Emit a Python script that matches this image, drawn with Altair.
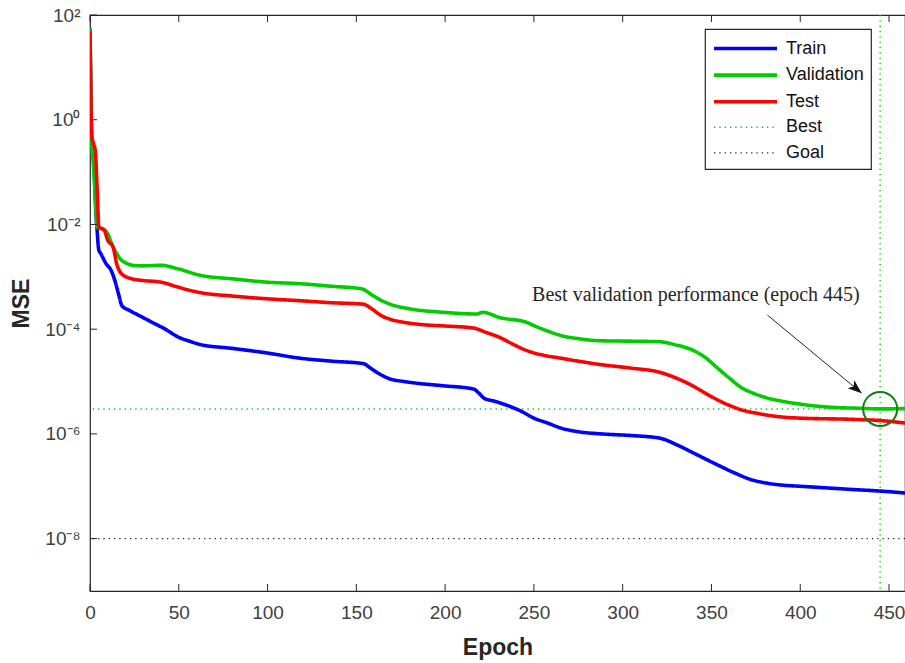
import altair as alt
import pandas as pd

# Training record: mean squared error per epoch
train_epoch = [0, 1, 2, 3, 4, 5, 6, 9, 12, 14, 16, 18, 22, 28, 35, 42, 50, 56, 62, 80, 100,
               118, 136, 154, 158, 163, 169, 177, 184, 199, 216, 219, 222, 228, 235, 242, 250,
               258, 265, 275, 288, 305, 321, 330, 340, 352, 363, 372, 381, 390, 400, 415, 429,
               445, 460]
train_mse = [56, 0.4, 0.25, 0.03, 7.8e-3, 3.2e-3, 2.8e-3, 1.8e-3, 1.3e-3, 8.5e-4, 4.8e-4,
             2.8e-4, 2.3e-4, 1.8e-4, 1.35e-4, 1.02e-4, 7.0e-5, 5.9e-5, 5.1e-5, 4.3e-5, 3.5e-5,
             2.8e-5, 2.45e-5, 2.2e-5, 1.8e-5, 1.4e-5, 1.12e-5, 1.0e-5, 9.3e-6, 8.3e-6, 7.2e-6,
             6.0e-6, 4.8e-6, 4.2e-6, 3.5e-6, 2.8e-6, 2.0e-6, 1.6e-6, 1.3e-6, 1.1e-6, 1.0e-6,
             9.3e-7, 8.3e-7, 6.3e-7, 4.3e-7, 2.7e-7, 1.8e-7, 1.35e-7, 1.15e-7, 1.05e-7, 1.0e-7,
             9.3e-8, 8.7e-8, 8.1e-8, 7.4e-8]

val_epoch = [0, 1, 2, 3, 4, 6, 8, 10, 12, 13, 15, 17, 20, 24, 30, 40, 50, 62, 81, 100, 118,
             136, 153, 158, 163, 169, 180, 199, 218, 221, 231, 246, 250, 259, 265, 275, 288,
             305, 321, 330, 340, 347, 353, 360, 367, 374, 381, 390, 400, 419, 432, 445, 460]
val_mse = [56, 0.4, 0.126, 0.032, 8.9e-3, 8.5e-3, 7.9e-3, 6.6e-3, 4.5e-3, 3.7e-3, 2.8e-3,
           2.2e-3, 1.86e-3, 1.66e-3, 1.62e-3, 1.66e-3, 1.41e-3, 1.07e-3, 9.1e-4, 7.9e-4, 7.4e-4,
           6.6e-4, 5.9e-4, 4.7e-4, 3.7e-4, 3.0e-4, 2.45e-4, 2.1e-4, 1.95e-4, 2.1e-4, 1.66e-4,
           1.35e-4, 1.17e-4, 8.9e-5, 7.6e-5, 6.6e-5, 6.0e-5, 5.9e-5, 5.75e-5, 5.0e-5, 3.9e-5,
           2.8e-5, 1.86e-5, 1.17e-5, 7.6e-6, 5.9e-6, 4.9e-6, 4.2e-6, 3.7e-6, 3.2e-6, 3.1e-6,
           3.0e-6, 3.05e-6]

test_epoch = [0, 1, 2, 3, 4, 5, 8, 10, 13, 15, 18, 24, 30, 40, 50, 62, 80, 100, 118, 136, 154,
              159, 164, 169, 177, 186, 200, 216, 223, 231, 238, 246, 255, 265, 275, 288, 305,
              321, 330, 340, 348, 357, 363, 368, 375, 381, 390, 400, 429, 445, 460]
test_mse = [49, 0.47, 0.35, 0.25, 0.05, 8.9e-3, 7.8e-3, 5.0e-3, 3.7e-3, 1.8e-3, 1.12e-3,
            9.1e-4, 8.5e-4, 7.9e-4, 6.3e-4, 5.0e-4, 4.3e-4, 3.8e-4, 3.5e-4, 3.2e-4, 3.0e-4,
            2.4e-4, 1.82e-4, 1.55e-4, 1.35e-4, 1.23e-4, 1.15e-4, 1.05e-4, 8.7e-5, 6.9e-5, 5.2e-5,
            3.9e-5, 3.2e-5, 2.8e-5, 2.45e-5, 2.1e-5, 1.8e-5, 1.5e-5, 1.17e-5, 8.1e-6, 5.6e-6,
            3.9e-6, 3.2e-6, 2.8e-6, 2.5e-6, 2.3e-6, 2.1e-6, 2.0e-6, 1.9e-6, 1.8e-6, 1.6e-6]

best_epoch = 445
best_mse = 3.0e-6
goal_mse = 1e-8

series_names = ["Train", "Validation", "Test", "Best", "Goal"]
series_colors = ["#0000ff", "#00cc00", "#ff0000", "#00cc00", "#262626"]
series_dash = [[1, 0], [1, 0], [1, 0], [1.3, 4], [1.3, 4]]
series_width = [3.6, 3.6, 3.6, 1.4, 1.4]

x_ticks = [0, 50, 100, 150, 200, 250, 300, 350, 400, 450]
y_ticks = [1e-8, 1e-6, 1e-4, 1e-2, 1, 1e2]
y_tick_text = ["10⁻⁸", "10⁻⁶", "10⁻⁴", "10⁻²", "10⁰", "10²"]

annotation_text = "Best validation performance (epoch 445)"
annotation_at = (249, 3.5e-4)
arrow_from = (381.5, 1.86e-4)
arrow_to = (434.6, 6.0e-6)

W, H = 815, 576
AXIS_COLOR = "#262626"
SANS = "Liberation Sans"

curves = pd.concat([
    pd.DataFrame({"epoch": train_epoch, "mse": train_mse, "series": "Train"}),
    pd.DataFrame({"epoch": val_epoch, "mse": val_mse, "series": "Validation"}),
    pd.DataFrame({"epoch": test_epoch, "mse": test_mse, "series": "Test"}),
], ignore_index=True)

x_scale = alt.Scale(domain=[0, 459], nice=False, zero=False)
y_scale = alt.Scale(type="log", domain=[1e-9, 1e2], nice=False)

# y labels: 10 with superscript exponent
label_expr = ""
for v, t in zip(y_ticks, y_tick_text):
    label_expr += f"datum.value < {v * 5:g} ? '{t}' : "
label_expr += "''"

x_axis = alt.Axis(values=x_ticks, ticks=False, domain=False, grid=False, format="d",
                  labelFlush=False,
                  labelFont=SANS, labelFontSize=19, labelColor="#404040", labelPadding=12,
                  title="Epoch", titleFont=SANS, titleFontSize=23, titleFontWeight="bold",
                  titleColor=AXIS_COLOR, titleX=W / 2, titleY=63, titleBaseline="alphabetic",
                  titleAlign="center")
y_axis = alt.Axis(values=y_ticks, ticks=False, domain=False, grid=False, labelExpr=label_expr,
                  labelFlush=False,
                  labelFont=SANS, labelFontSize=19, labelColor="#404040", labelPadding=10,
                  title="MSE", titleFont=SANS, titleFontSize=23, titleFontWeight="bold",
                  titleColor=AXIS_COLOR, titleX=-62, titleY=H / 2, titleBaseline="alphabetic",
                  titleAlign="center", titleAngle=270)


def X(field):
    return alt.X(field, scale=x_scale, axis=x_axis)


def Y(field):
    return alt.Y(field, scale=y_scale, axis=y_axis)


legend_kw = dict(title=None, symbolType="M-1,0H5")
color_enc = alt.Color("series:N", scale=alt.Scale(domain=series_names, range=series_colors),
                      legend=alt.Legend(**legend_kw))
dash_enc = alt.StrokeDash("series:N", scale=alt.Scale(domain=series_names, range=series_dash),
                          legend=alt.Legend(**legend_kw))
width_enc = alt.StrokeWidth("series:N",
                            scale=alt.Scale(type="ordinal", domain=series_names, range=series_width),
                            legend=alt.Legend(**legend_kw))

lines = alt.Chart(curves).mark_line(interpolate="monotone", clip=True).encode(
    x=X("epoch:Q"), y=Y("mse:Q"),
    color=color_enc, strokeDash=dash_enc, strokeWidth=width_enc,
    detail="series:N",
)

best_v = alt.Chart(pd.DataFrame({"epoch": [best_epoch], "series": ["Best"]})).mark_rule().encode(
    x=X("epoch:Q"),
    color=color_enc, strokeDash=dash_enc, strokeWidth=width_enc,
)
h_rules = alt.Chart(pd.DataFrame({"mse": [best_mse, goal_mse], "series": ["Best", "Goal"]})).mark_rule().encode(
    y=Y("mse:Q"),
    color=color_enc, strokeDash=dash_enc, strokeWidth=width_enc,
)

best_pt = pd.DataFrame({"epoch": [best_epoch], "mse": [best_mse]})
circle = alt.Chart(best_pt).mark_point(shape="circle", size=1156, filled=False, opacity=1,
                                       strokeWidth=2, color="#0f7f0f").encode(
    x=X("epoch:Q"), y=Y("mse:Q"),
)

arrow_df = pd.DataFrame({"epoch": [arrow_from[0]], "mse": [arrow_from[1]],
                         "epoch2": [arrow_to[0]], "mse2": [arrow_to[1]]})
arrow_line = alt.Chart(arrow_df).mark_rule(color=AXIS_COLOR, strokeWidth=1).encode(
    x=X("epoch:Q"), y=Y("mse:Q"), x2="epoch2:Q", y2="mse2:Q",
)
arrow_head = alt.Chart(arrow_df).mark_point(shape="M0,0L-2,-0.75L-1.5,0L-2,0.75Z", size=196,
                                            filled=True, color="#111111", angle=40,
                                            strokeWidth=0, opacity=1).encode(
    x=X("epoch2:Q"), y=Y("mse2:Q"),
)
note = alt.Chart(pd.DataFrame({"epoch": [annotation_at[0]], "mse": [annotation_at[1]],
                               "text": [annotation_text]})).mark_text(
    align="left", baseline="alphabetic", font="Liberation Serif", fontSize=20, color="#262626"
).encode(
    x=X("epoch:Q"), y=Y("mse:Q"), text="text:N",
)

# inward tick marks on bottom, top and left edges
xt = pd.DataFrame({"epoch": x_ticks})
ticks_bottom = alt.Chart(xt).mark_rule(color=AXIS_COLOR, strokeWidth=1).encode(
    x=X("epoch:Q"), y=alt.value(H), y2=alt.value(H - 7))
ticks_top = alt.Chart(xt).mark_rule(color=AXIS_COLOR, strokeWidth=1).encode(
    x=X("epoch:Q"), y=alt.value(0), y2=alt.value(7))
ticks_left = alt.Chart(pd.DataFrame({"mse": y_ticks})).mark_rule(color=AXIS_COLOR, strokeWidth=1).encode(
    y=Y("mse:Q"), x=alt.value(0), x2=alt.value(7))

chart = alt.layer(
    h_rules, best_v, lines, circle, arrow_line, arrow_head, note,
    ticks_bottom, ticks_top, ticks_left,
).properties(
    width=W, height=H,
    padding={"left": 90, "top": 15, "right": 0, "bottom": 72},
    autosize=alt.AutoSizeParams(type="none"),
    background="white",
).configure_view(
    stroke=AXIS_COLOR, strokeWidth=1.2,
).configure_legend(
    orient="none", legendX=615, legendY=14,
    fillColor="white", strokeColor=AXIS_COLOR, strokeWidth=1.2, cornerRadius=0,
    padding=7, rowPadding=4.6, symbolSize=441, labelOffset=49,
    labelFont=SANS, labelFontSize=18, labelColor="#111111", labelLimit=200,
)

chart.save("out.html", embed_options={"renderer": "svg", "actions": False})
